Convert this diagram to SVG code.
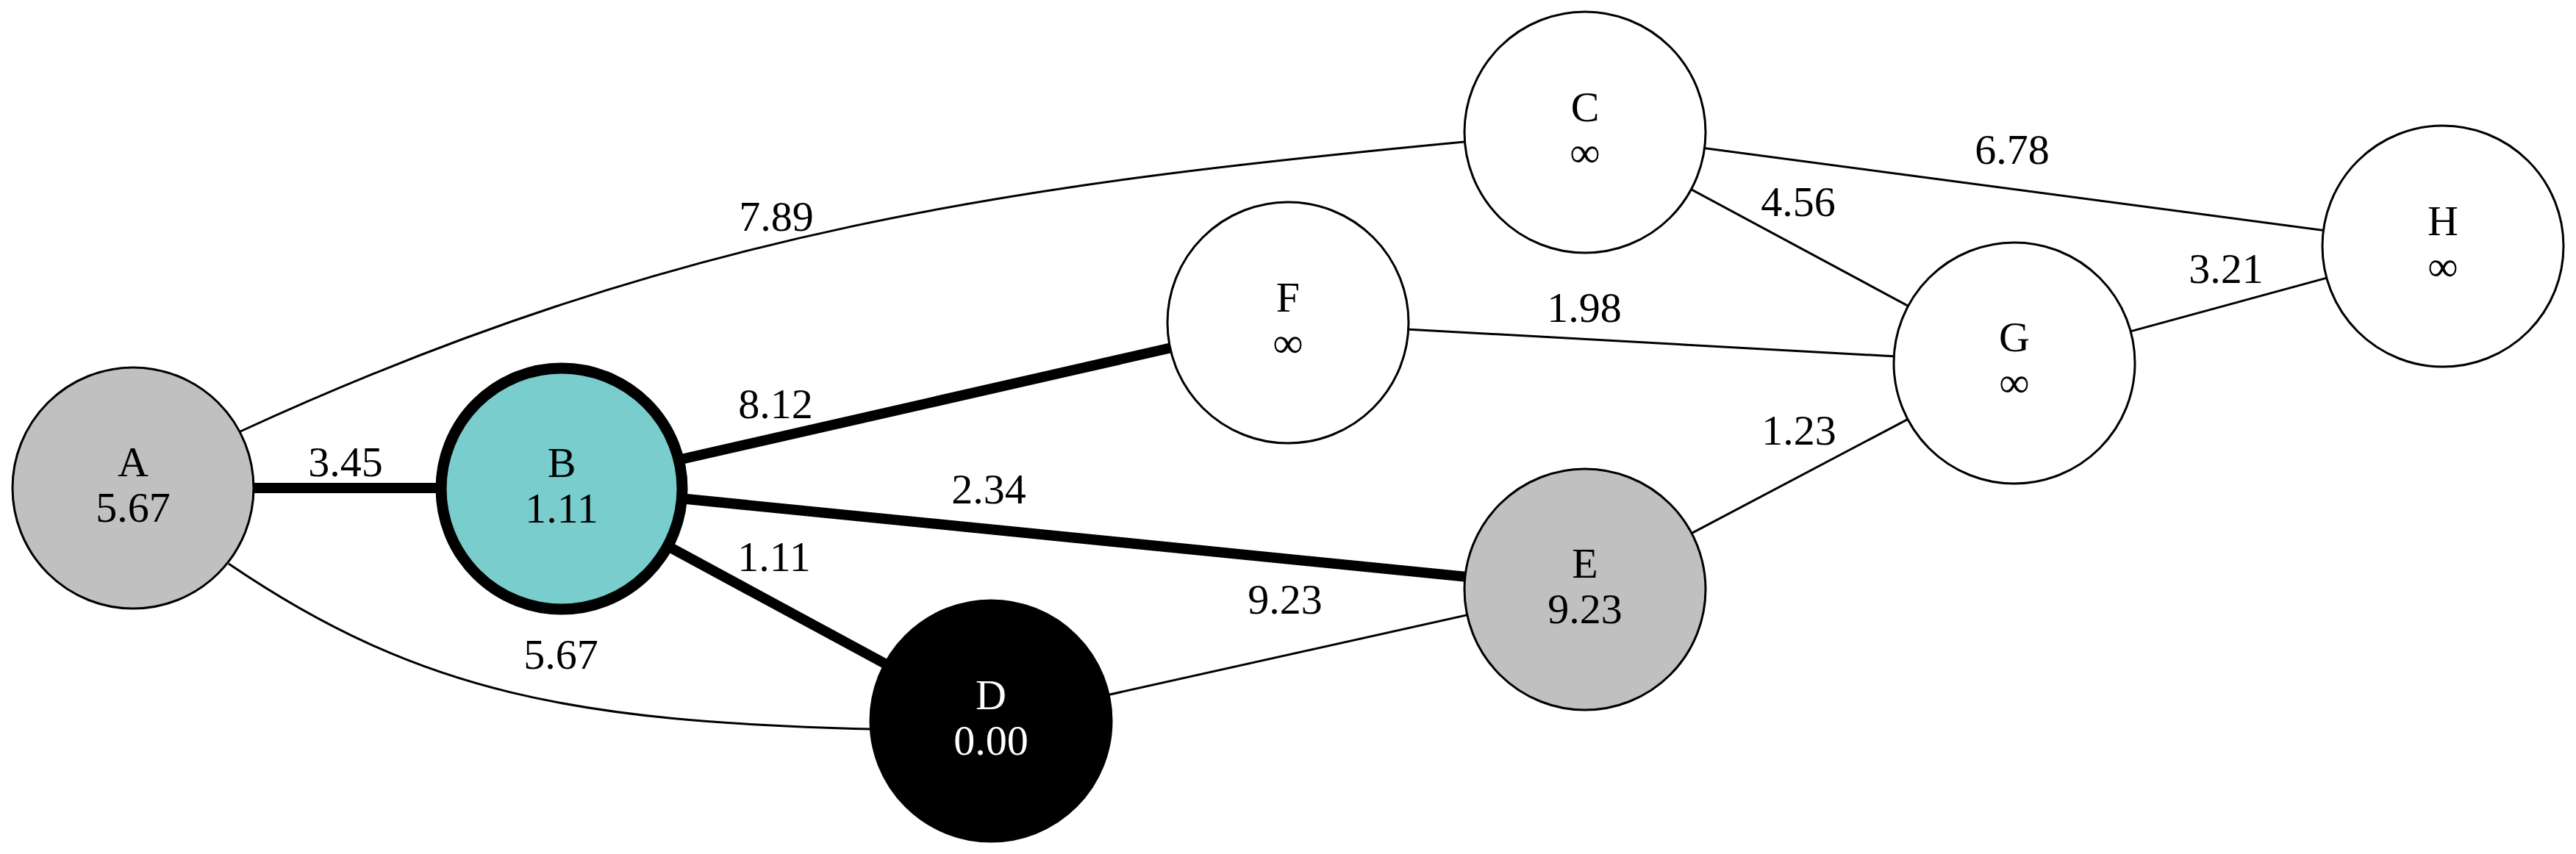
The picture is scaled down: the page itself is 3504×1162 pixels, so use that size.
<svg xmlns="http://www.w3.org/2000/svg" width="3504" height="1162" viewBox="0 0 3504 1162">
<style>
.edge{stroke:#000;stroke-width:3;fill:none}
.thick{stroke-width:14}
.node{stroke:#000;stroke-width:3;fill:#fff}
.lbl{font-family:"Liberation Serif","Times New Roman",serif;font-size:58px;text-anchor:middle;fill:#000}
.wt{fill:#fff}
</style>
<rect width="3504" height="1162" fill="#fff"/>
<g id="edges">
<path class="edge" d="M327,587 C927,311 1392,250 1992,193"/>
<path class="edge" d="M311,767 C571,944 784,982 1184,992"/>
<line class="edge thick" x1="181" y1="664" x2="764" y2="664"/>
<line class="edge thick" x1="764" y1="662" x2="1752" y2="437"/>
<line class="edge thick" x1="764" y1="662" x2="2156" y2="801"/>
<line class="edge thick" x1="764" y1="665" x2="1348" y2="981"/>
<line class="edge" x1="1348" y1="981" x2="2156" y2="801"/>
<line class="edge" x1="1752" y1="439" x2="2740" y2="494"/>
<line class="edge" x1="2156" y1="180" x2="2740" y2="494"/>
<line class="edge" x1="2156" y1="180" x2="3323" y2="335"/>
<line class="edge" x1="2740" y1="494" x2="3323" y2="335"/>
<line class="edge" x1="2156" y1="802" x2="2740" y2="494"/>
<text class="lbl" x="1056" y="314">7.89</text>
<text class="lbl" x="470" y="648">3.45</text>
<text class="lbl" x="1055" y="569">8.12</text>
<text class="lbl" x="1345" y="685">2.34</text>
<text class="lbl" x="1053" y="777">1.11</text>
<text class="lbl" x="763" y="910">5.67</text>
<text class="lbl" x="1748" y="835">9.23</text>
<text class="lbl" x="2155" y="438">1.98</text>
<text class="lbl" x="2446" y="294">4.56</text>
<text class="lbl" x="2737" y="223">6.78</text>
<text class="lbl" x="3028" y="385">3.21</text>
<text class="lbl" x="2447" y="605">1.23</text>
</g>
<g id="node-A">
<circle class="node" cx="181" cy="664" r="164" fill="#c0c0c0" style="fill:#c0c0c0"/>
<text class="lbl" x="181" y="648">A</text>
<text class="lbl" x="181" y="710">5.67</text>
</g>
<g id="node-B">
<circle class="node" cx="764" cy="665" r="164" style="fill:#79cdcd;stroke-width:15"/>
<text class="lbl" x="764" y="649">B</text>
<text class="lbl" x="764" y="711">1.11</text>
</g>
<g id="node-C">
<circle class="node" cx="2156" cy="180" r="164"/>
<text class="lbl" x="2156" y="165">C</text>
<text class="lbl" x="2156" y="227">∞</text>
</g>
<g id="node-D">
<circle class="node" cx="1348" cy="981" r="164" style="fill:#000"/>
<text class="lbl wt" x="1348" y="965">D</text>
<text class="lbl wt" x="1348" y="1027">0.00</text>
</g>
<g id="node-E">
<circle class="node" cx="2156" cy="802" r="164" style="fill:#c0c0c0"/>
<text class="lbl" x="2156" y="786">E</text>
<text class="lbl" x="2156" y="848">9.23</text>
</g>
<g id="node-F">
<circle class="node" cx="1752" cy="439" r="164"/>
<text class="lbl" x="1752" y="424">F</text>
<text class="lbl" x="1752" y="486">∞</text>
</g>
<g id="node-G">
<circle class="node" cx="2740" cy="494" r="164"/>
<text class="lbl" x="2740" y="478">G</text>
<text class="lbl" x="2740" y="540">∞</text>
</g>
<g id="node-H">
<circle class="node" cx="3323" cy="335" r="164"/>
<text class="lbl" x="3323" y="320">H</text>
<text class="lbl" x="3323" y="382">∞</text>
</g>
</svg>
